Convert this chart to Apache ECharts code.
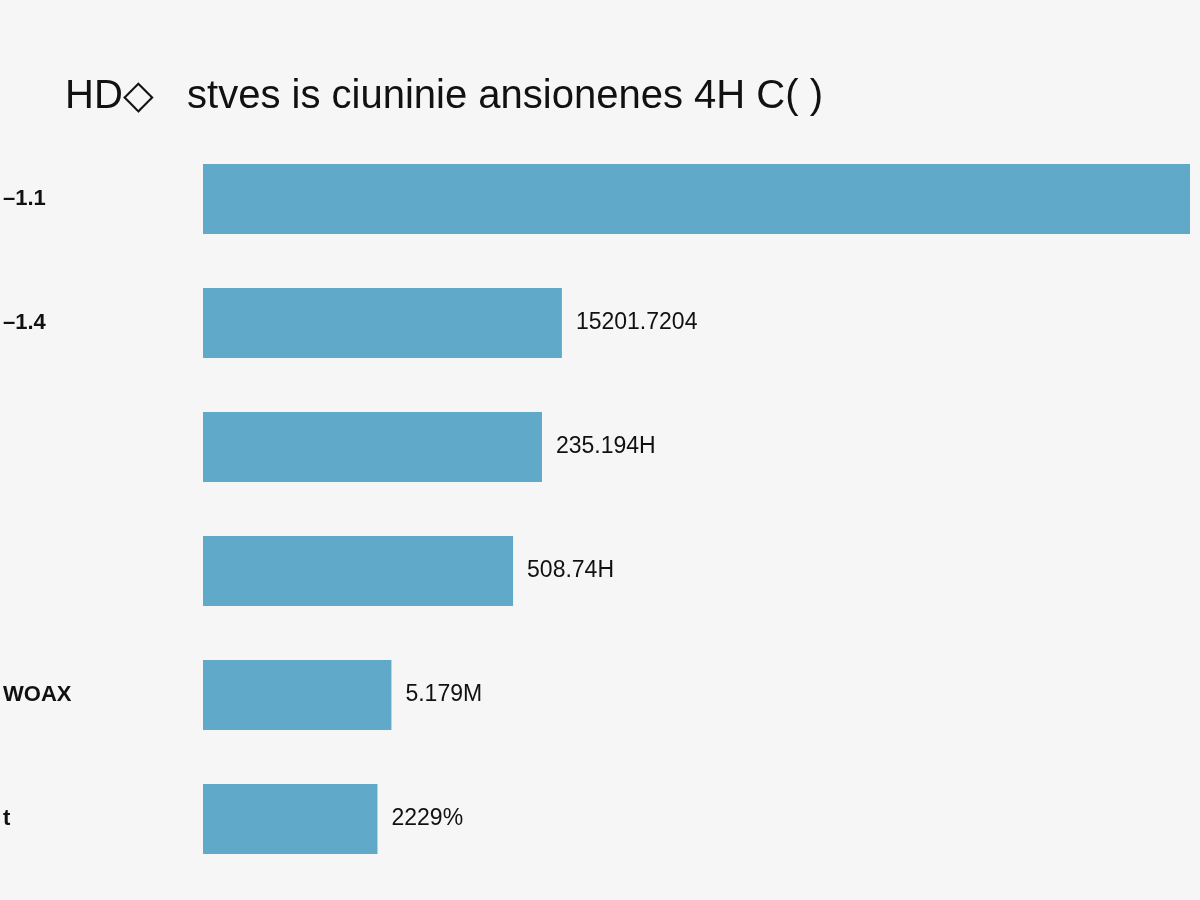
<!DOCTYPE html>
<html>
<head>
<meta charset="utf-8">
<script src="https://cdn.jsdelivr.net/npm/echarts@6/dist/echarts.min.js"></script>
<style>html,body{margin:0;background:#f6f6f6;}#chart{width:1200px;height:900px;}</style>
</head>
<body>
<div id="chart"></div>
<script>
const categories = ["–1.1", "–1.4", "", "", "WOAX", "t"];
const values = [990, 360, 340, 311, 189, 175];
const valueLabels = ["", "15201.7204", "235.194H", "508.74H", "5.179M", "2229%"];

const chart = echarts.init(document.getElementById("chart"));
chart.setOption({
    backgroundColor: "#f6f6f6",
    title: {
        text: "HD◇   stves is ciuninie ansionenes 4H C( )",
        left: 60, top: 72,
        textStyle: { fontSize: 40, fontWeight: "normal", color: "#111", fontFamily: "Liberation Sans" }
    },
    grid: { left: 200, right: 10, top: 137, bottom: 19 },
    xAxis: { type: "value", min: 0, max: 990, show: false },
    yAxis: {
        type: "category", data: categories, inverse: true,
        axisLine: { show: false }, axisTick: { show: false },
        axisLabel: {
            fontSize: 22, color: "#111", fontWeight: "bold", fontFamily: "Liberation Sans",
            align: "left", margin: 200, padding: [0, 0, 25, 0]
        }
    },
    series: [{
        type: "bar", data: values, barWidth: 70,
        itemStyle: { color: "#60a9c9" },
        label: {
            show: true, position: "right", distance: 14, fontSize: 23, color: "#111",
            fontFamily: "Liberation Sans",
            formatter: p => valueLabels[p.dataIndex]
        }
    }]
});
</script>
</body>
</html>
